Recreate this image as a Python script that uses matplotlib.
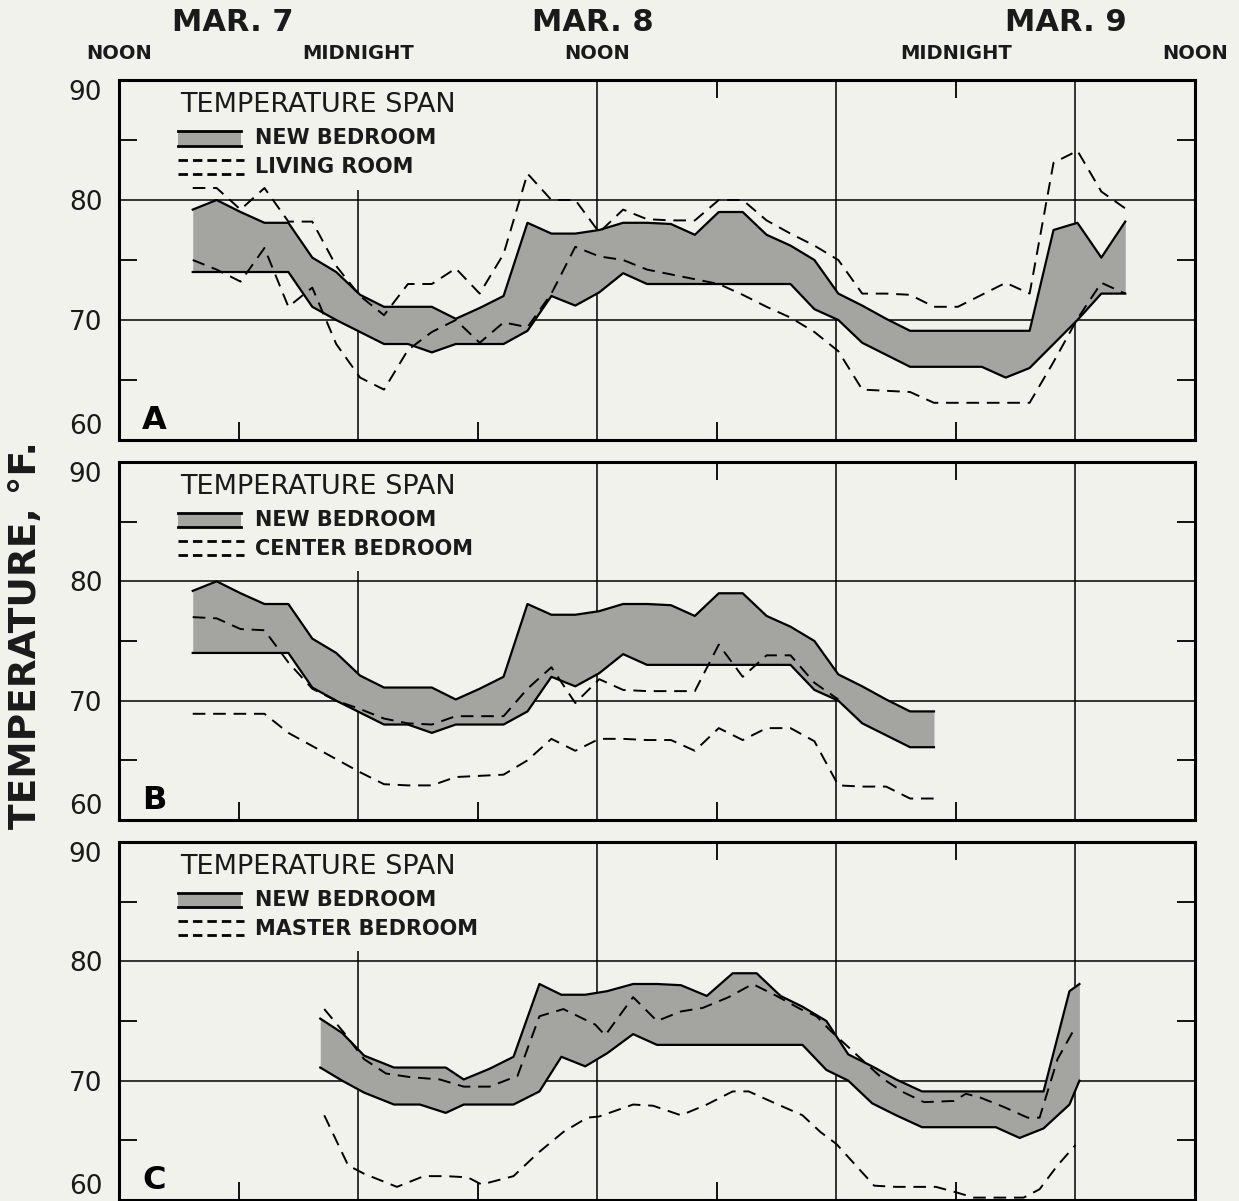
import matplotlib.pyplot as plt
from matplotlib.patches import Rectangle

BG = '#f2f2ec'
BAND = '#a4a4a0'

# hours after noon, Mar 7 (one reading every 1.2 h as drawn)
HOURS = [3.7, 4.9, 6.1, 7.3, 8.5, 9.7, 10.9, 12.1, 13.3, 14.5,
         15.7, 16.9, 18.1, 19.3, 20.5, 21.7, 22.9, 24.1, 25.3, 26.5,
         27.7, 28.9, 30.1, 31.3, 32.5, 33.7, 34.9, 36.1, 37.3, 38.5,
         39.7, 40.9, 42.1, 43.3, 44.5, 45.7, 46.9, 48.1, 49.3, 50.5]
# panel C was drawn a little to the right (readings 5..37)
HOURS_C = [10.1, 11.2, 12.3, 13.8, 15.1, 16.4, 17.3, 18.6, 19.8, 21.1,
           22.2, 23.4, 24.5, 25.8, 27.0, 28.2, 29.5, 30.8, 32.0, 33.2,
           34.3, 35.5, 36.6, 37.8, 39.0, 40.3, 41.5, 42.8, 44.0, 45.2,
           46.4, 47.7, 48.2]

# new bedroom span (max / min)
NEW_UPPER = [79.2, 80.0, 79.0, 78.1, 78.1, 75.2, 74.0, 72.1, 71.1, 71.1,
             71.1, 70.1, 71.0, 72.0, 78.1, 77.2, 77.2, 77.5, 78.1, 78.1,
             78.0, 77.1, 79.0, 79.0, 77.1, 76.2, 75.0, 72.2, 71.2, 70.1,
             69.1, 69.1, 69.1, 69.1, 69.1, 69.1, 77.5, 78.1, 75.2, 78.2]
NEW_LOWER = [74.0, 74.0, 74.0, 74.0, 74.0, 71.1, 70.0, 69.0, 68.0, 68.0,
             67.3, 68.0, 68.0, 68.0, 69.1, 72.0, 71.2, 72.3, 73.9, 73.0,
             73.0, 73.0, 73.0, 73.0, 73.0, 73.0, 70.9, 70.0, 68.1, 67.1,
             66.1, 66.1, 66.1, 66.1, 65.2, 66.0, 68.0, 70.0, 72.2, 72.2]

# living room (panel A)
LIVING_MAX = [81.0, 81.0, 79.2, 81.0, 78.2, 78.2, 74.5, 72.0, 70.4, 73.0,
              73.0, 74.3, 72.2, 75.5, 82.2, 80.0, 80.0, 77.3, 79.2, 78.4,
              78.3, 78.3, 80.0, 80.0, 78.3, 77.2, 76.2, 75.0, 72.2, 72.2,
              72.1, 71.1, 71.1, 72.1, 73.1, 72.2, 83.1, 84.1, 80.7, 79.3]
LIVING_MIN = [75.0, 74.2, 73.2, 76.0, 71.1, 72.7, 68.0, 65.2, 64.2, 67.5,
              69.0, 70.0, 68.1, 69.8, 69.4, 72.2, 76.1, 75.3, 75.0, 74.2,
              73.8, 73.4, 73.0, 72.1, 71.1, 70.2, 69.0, 67.4, 64.2, 64.1,
              64.0, 63.1, 63.1, 63.1, 63.1, 63.1, 66.5, 70.1, 73.1, 72.2]

# center bedroom (panel B)
CENTER_MAX = [77.0, 76.9, 76.0, 75.9, 73.2, 71.0, 70.0, 69.3, 68.5, 68.1,
              68.0, 68.7, 68.7, 68.7, 71.0, 72.8, 69.8, 71.8, 70.9, 70.8,
              70.8, 70.8, 74.7, 72.0, 73.8, 73.8, 71.5, 70.1]
CENTER_MIN = [68.9, 68.9, 68.9, 68.9, 67.3, 66.2, 65.1, 64.0, 63.0, 62.9,
              62.9, 63.6, 63.7, 63.8, 65.0, 66.8, 65.8, 66.8, 66.8, 66.7,
              66.7, 65.8, 67.7, 66.7, 67.7, 67.7, 66.6, 62.9, 62.8, 62.8,
              61.8, 61.8]

# master bedroom (panel C)
MASTER_MAX_HOURS = [10.3, 11.3, 12.3, 13.4, 14.6, 16.1, 17.3, 18.6, 20.0, 21.1,
                    22.3, 23.9, 24.4, 25.8, 27.0, 28.2, 29.3, 30.6, 31.8, 33.0,
                    34.2, 35.0, 35.7, 37.0, 38.3, 39.4, 40.4, 41.9, 42.5, 43.2,
                    44.4, 45.6, 46.2, 47.1, 47.9, 48.1]
MASTER_MAX = [76.0, 74.0, 71.8, 70.6, 70.3, 70.1, 69.5, 69.5, 70.4, 75.4,
              76.0, 74.7, 73.8, 77.0, 75.0, 75.8, 76.1, 77.0, 78.1, 77.1,
              76.0, 75.4, 74.2, 72.2, 70.2, 69.0, 68.2, 68.3, 68.9, 68.6,
              67.8, 66.9, 66.9, 71.8, 74.2, 74.3]
MASTER_MIN_HOURS = [10.3, 11.5, 12.3, 13.95, 15.3, 16.4, 17.5, 18.2, 19.8, 21.0,
                    22.3, 23.5, 24.1, 25.8, 26.8, 28.2, 29.5, 30.8, 31.6, 32.8,
                    34.3, 35.2, 36.0, 37.9, 39.0, 41.0, 42.1, 42.9, 45.4, 46.2,
                    47.1, 48.0]
MASTER_MIN = [67.1, 62.9, 62.2, 61.1, 62.0, 62.0, 61.9, 61.3, 62.0, 63.9,
              65.7, 66.9, 67.0, 68.0, 67.9, 67.1, 68.0, 69.1, 69.1, 68.2,
              67.1, 65.7, 64.7, 61.2, 61.1, 61.1, 60.6, 60.2, 60.2, 60.9,
              62.9, 64.6]

TIME_LABELS = ['NOON', 'MIDNIGHT', 'NOON', 'MIDNIGHT', 'NOON']
TIME_LABEL_HOURS = [0, 12, 24, 42, 54]
DATE_LABELS = ['MAR. 7', 'MAR. 8', 'MAR. 9']
DATE_LABEL_HOURS = [5.7, 23.8, 47.5]
Y_TICKS = [60, 70, 80, 90]

panels = [
    dict(letter='A', room='LIVING ROOM',
         band=(HOURS, NEW_UPPER, NEW_LOWER),
         hi=(HOURS, LIVING_MAX), lo=(HOURS, LIVING_MIN)),
    dict(letter='B', room='CENTER BEDROOM',
         band=(HOURS[:32], NEW_UPPER[:32], NEW_LOWER[:32]),
         hi=(HOURS[:len(CENTER_MAX)], CENTER_MAX), lo=(HOURS[:len(CENTER_MIN)], CENTER_MIN)),
    dict(letter='C', room='MASTER BEDROOM',
         band=(HOURS_C, NEW_UPPER[5:38], NEW_LOWER[5:38]),
         hi=(MASTER_MAX_HOURS, MASTER_MAX), lo=(MASTER_MIN_HOURS, MASTER_MIN)),
]

W, H = 1239, 1201
fig = plt.figure(figsize=(W / 100, H / 100), dpi=100, facecolor=BG)

# panel frames in pixels (top, bottom)
frames = [(80, 440), (462, 820), (842, 1200)]
left, right = 119, 1195
dash = (0, (6.5, 4))

axes = []
for p, (top, bot) in zip(panels, frames):
    ax = fig.add_axes([left / W, (H - bot) / H, (right - left) / W, (bot - top) / H])
    ax.set_facecolor(BG)
    ax.set_xlim(0, 54)
    ax.set_ylim(60, 90)

    # grid
    for v in [70, 80]:
        ax.axhline(v, color='k', lw=1.1, zorder=2)
    for h in [12, 24, 36, 48]:
        ax.axvline(h, color='k', lw=1.1, zorder=2)

    # ticks
    ax.set_xticks([])
    ax.set_xticks([6, 18, 30, 42], minor=True)
    ax.set_yticks(Y_TICKS)
    ax.set_yticks([65, 75, 85], minor=True)
    ax.tick_params(which='minor', direction='in', length=13, width=1.3,
                   top=True, bottom=True, left=True, right=True)
    ax.tick_params(axis='y', which='major', length=0, pad=12, labelsize=19,
                   labelcolor='#1a1a1a')
    # end labels sit inside the frame height, as in the drawing
    ylabels = ax.get_yticklabels()
    ylabels[0].set_va('bottom')
    ylabels[-1].set_va('top')
    for s in ax.spines.values():
        s.set_linewidth(2.2)
        s.set_zorder(8)

    # data
    t, up, lo = p['band']
    ax.fill_between(t, lo, up, color=BAND, lw=0, zorder=3)
    ax.plot(t, up, color='k', lw=1.6, zorder=4)
    ax.plot(t, lo, color='k', lw=1.6, zorder=4)
    ax.plot(*p['hi'], color='k', lw=1.4, ls=dash, zorder=5)
    ax.plot(*p['lo'], color='k', lw=1.4, ls=dash, zorder=5)

    # legend block (blanks the grid behind it)
    ax.add_patch(Rectangle((0.024, 0.695), 0.36, 0.30, transform=ax.transAxes,
                           facecolor=BG, edgecolor='none', zorder=2.6))
    ax.text(0.057, 0.930, 'TEMPERATURE SPAN', transform=ax.transAxes,
            fontsize=19.5, ha='left', va='center', color='#1a1a1a', zorder=7)
    ax.add_patch(Rectangle((0.055, 0.818), 0.058, 0.040, transform=ax.transAxes,
                           facecolor=BAND, edgecolor='none', zorder=7))
    for yy in [0.818, 0.858]:
        ax.plot([0.055, 0.113], [yy, yy], transform=ax.transAxes,
                color='k', lw=2.0, zorder=7)
    ax.text(0.126, 0.838, 'NEW BEDROOM', transform=ax.transAxes,
            fontsize=15, fontweight='bold', ha='left', va='center',
            color='#1a1a1a', zorder=7)
    for yy in [0.739, 0.778]:
        ax.plot([0.055, 0.116], [yy, yy], transform=ax.transAxes,
                color='k', lw=2.0, ls=(0, (3.4, 1.8)), zorder=7)
    ax.text(0.126, 0.758, p['room'], transform=ax.transAxes,
            fontsize=15, fontweight='bold', ha='left', va='center',
            color='#1a1a1a', zorder=7)

    ax.text(0.033, 0.055, p['letter'], transform=ax.transAxes, fontsize=23,
            fontweight='bold', ha='center', va='center', zorder=7)
    axes.append(ax)

# time-of-day and date headings above the top panel
top_ax = axes[0]
trans = top_ax.get_xaxis_transform()
for lab, h in zip(TIME_LABELS, TIME_LABEL_HOURS):
    top_ax.text(h, 1.074, lab, transform=trans, fontsize=14, fontweight='bold',
                ha='center', va='center', color='#1a1a1a', clip_on=False)
for lab, h in zip(DATE_LABELS, DATE_LABEL_HOURS):
    top_ax.text(h, 1.16, lab, transform=trans, fontsize=22, fontweight='bold',
                ha='center', va='center', color='#1a1a1a', clip_on=False)

fig.text(26 / W, 1 - 635 / H, 'TEMPERATURE, °F.', rotation=90, fontsize=27,
         fontweight='bold', ha='center', va='center', color='#1a1a1a')

fig.savefig('out.png', dpi=100, facecolor=BG)
